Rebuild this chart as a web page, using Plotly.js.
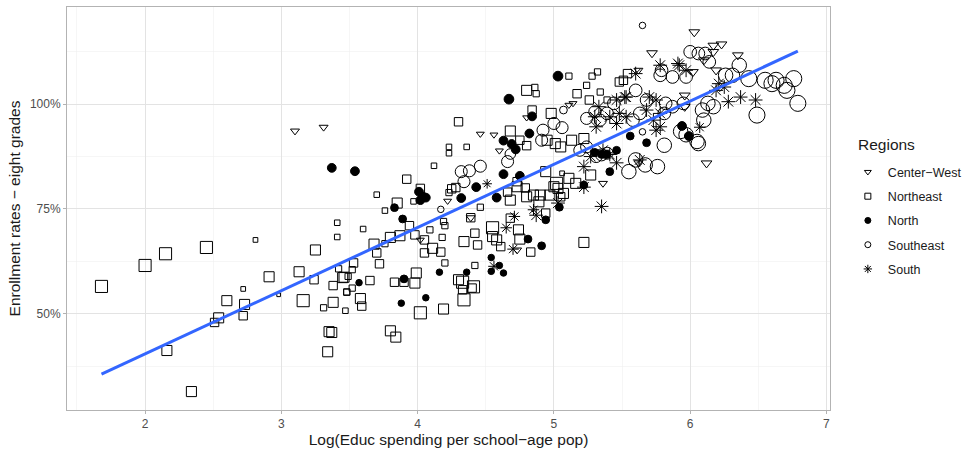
<!DOCTYPE html>
<html><head><meta charset="utf-8">
<script src="https://cdn.plot.ly/plotly-3.0.1.min.js"></script>
<style>html,body{margin:0;padding:0;background:#fff}</style>
</head><body><div id="chart" style="width:974px;height:451px"></div>
<script>
// ---- Data ----
// x: Log(Educ spending per school-age pop), y: enrollment rate (fraction), pop: relative population weight
const regionNames = ["Center\u2212West", "Northeast", "North", "Southeast", "South"];

const cwX = [3.10,3.31,4.46,4.56,4.80,4.60,4.22,4.39,4.02,5.14,5.11,5.36,4.73,6.03,5.72,6.10,6.17,6.02,6.19,5.62,5.96,5.96,6.12,6.23,6.35,6.17,5.62];
const cwY = [0.936,0.945,0.929,0.927,0.968,0.889,0.769,0.729,0.676,1.002,0.998,0.811,0.652,1.172,1.122,1.105,1.140,1.077,1.081,1.081,1.021,0.994,0.859,1.143,1.117,1.125,0.860];
const cwPop = [4,4,3,3,3,3,3,4,3,3,3,4,4,6,6,6,6,6,6,4,6,6,6,6,6,6,4];

const neX = [1.68,2.00,2.15,2.45,2.81,3.25,2.91,3.13,3.24,2.72,2.98,2.60,2.73,3.16,2.54,2.51,2.72,3.38,3.41,3.41,
  3.38,3.31,3.34,3.35,3.37,2.16,2.34,3.47,3.45,3.42,3.48,3.70,3.85,3.76,3.60,3.68,3.80,3.87,3.76,3.70,
  3.72,3.53,3.52,3.46,3.49,3.65,3.52,3.48,3.58,3.59,3.83,3.90,3.80,3.84,3.92,4.12,4.02,3.97,4.30,4.84,
  4.98,4.80,4.86,4.87,5.11,4.68,4.75,4.80,4.23,4.23,4.36,4.94,5.03,5.06,4.25,4.28,4.23,4.46,4.39,4.19,
  4.20,3.94,3.98,4.05,4.18,4.09,4.11,4.05,4.17,4.20,3.99,3.98,4.02,4.19,4.34,4.33,4.41,4.42,4.55,4.55,
  4.58,4.61,4.74,4.75,4.68,4.83,4.89,4.94,5.00,5.05,4.85,4.80,4.68,4.73,4.42,4.34,4.44,4.30,4.40,4.33,
  5.24,5.28,5.32,5.17,5.34,5.39,5.26,5.05,5.13,5.22,4.95,5.01,5.27,5.02,5.11,5.07,5.16,4.97,4.90,5.22,
  5.51,5.48,5.54,4.66,4.73,4.79];
const neY = [0.565,0.615,0.643,0.658,0.676,0.652,0.588,0.600,0.581,0.559,0.545,0.531,0.522,0.531,0.490,0.479,0.495,0.567,0.717,0.683,
  0.527,0.514,0.409,0.457,0.455,0.412,0.314,0.507,0.586,0.607,0.552,0.784,0.764,0.746,0.702,0.666,0.682,0.686,0.667,0.645,
  0.619,0.621,0.605,0.587,0.589,0.579,0.561,0.551,0.536,0.518,0.575,0.575,0.459,0.444,0.821,0.853,0.799,0.768,0.958,0.986,
  0.978,1.033,1.040,1.025,1.067,0.936,0.914,0.901,0.898,0.883,0.898,0.839,0.799,0.835,0.798,0.801,0.789,0.754,0.729,0.720,
  0.710,0.710,0.688,0.676,0.682,0.700,0.656,0.645,0.647,0.621,0.597,0.573,0.502,0.511,0.533,0.575,0.564,0.615,0.705,0.684,
  0.676,0.660,0.700,0.678,0.728,0.647,0.767,0.740,0.803,0.779,0.783,0.779,0.771,0.803,0.692,0.672,0.664,0.581,0.561,0.557,
  1.045,1.067,1.077,1.025,1.029,1.010,1.010,0.898,0.914,0.918,0.914,0.906,0.831,0.811,0.823,0.787,0.811,0.783,0.783,0.670,
  1.057,1.053,1.073,0.790,0.815,0.800];
const nePop = [9,9,9,9,1,6,6,6,4,1,0.5,6,6,9,6,4,4,4,1.5,1.5,
  6,2,6,6,6,6,6,1.5,6,2,2,1.5,6,1.5,1.5,6,6,6,2,4,
  4,4,2,6,2,4,2,2,6,4,4,4,6,6,4,1.5,4,1.5,4,4,
  6,6,2,2,2,6,4,4,1.5,1.5,1.5,6,6,1,4,4,2,2,4,2,
  2,4,4,4,2,2,6,4,4,2,6,6,9,6,9,9,9,2,9,6,
  6,4,6,6,4,4,6,4,6,4,6,6,6,6,4,6,4,6,4,4,
  2,2,2,4,2,2,4,6,6,6,6,6,6,9,6,6,6,6,6,6,
  4,4,4,4,4,4];

const nX = [3.37,3.54,3.83,3.89,3.57,3.90,3.88,4.16,4.06,4.01,4.04,4.02,4.06,4.32,4.43,4.58,4.63,4.75,4.67,5.03,
  4.84,4.82,4.63,4.69,4.72,4.36,4.54,4.60,4.54,4.63,4.81,4.91,5.04,4.94,5.41,5.22,5.94,5.99,5.56,5.68,
  5.46,5.39,5.30,5.35];
const nY = [0.848,0.840,0.753,0.726,0.574,0.583,0.525,0.599,0.538,0.791,0.779,0.771,0.777,0.776,0.802,0.777,0.833,0.829,1.012,1.067,
  0.971,0.930,0.913,0.905,0.892,0.599,0.634,0.615,0.601,0.597,0.678,0.662,0.754,0.724,0.839,0.807,0.948,0.924,0.924,0.908,
  0.890,0.880,0.885,0.880];
const nPop = [4,4,3,3,2,3,2,2,2,4,4,4,4,4,4,4,4,4,5,5,
  4,4,4,4,4,2,2,2,2,2,3,3,3,3,3,3,4,4,3,3,
  3,3,3,3];

const seX = [4.32,4.38,4.46,4.34,4.66,4.68,5.00,5.06,4.17,5.07,5.24,5.30,5.34,4.92,4.91,5.19,5.24,5.31,5.35,5.39,
  5.65,6.00,6.06,6.11,6.14,5.78,5.87,5.79,5.97,5.60,5.68,5.82,5.81,5.87,5.95,5.63,5.58,5.44,5.39,6.09,
  6.13,6.17,6.10,6.06,5.65,5.81,5.55,5.67,5.76,6.36,6.43,6.55,6.63,6.69,6.76,6.79,6.49,6.71,6.60,6.26,
  6.31,5.93,5.97,6.05,5.60];
const seY = [0.839,0.841,0.852,0.815,0.863,0.881,0.954,0.944,0.749,0.986,0.966,0.982,0.962,0.938,0.914,0.890,0.898,0.875,0.879,0.883,
  1.188,1.125,1.121,1.121,1.101,1.069,1.065,1.081,1.065,1.033,1.010,1.002,0.978,0.994,1.002,0.978,0.962,1.002,0.978,0.986,
  1.002,0.994,0.962,0.906,0.934,0.902,0.839,0.855,0.851,1.093,1.061,1.057,1.057,1.045,1.061,1.002,0.974,1.033,1.049,1.069,
  1.069,0.935,0.927,0.911,0.867];
const sePop = [8,8,8,8,8,6,8,8,2,3,8,8,8,8,8,8,8,8,8,8,
  2,9,9,9,9,9,9,9,9,9,9,9,9,9,9,9,9,9,9,12,
  12,12,12,12,2,12,12,12,12,12,15,15,15,15,15,15,15,15,15,12,
  12,12,12,12,12];

const sX = [4.51,4.65,4.71,4.70,4.56,4.85,5.31,5.30,5.22,5.27,5.36,5.22,5.35,5.03,4.87,5.78,5.91,5.97,5.60,5.46,
  5.53,5.48,5.70,5.75,5.68,5.78,5.73,5.78,5.75,5.41,5.46,5.53,6.07,5.63,6.21,6.28,6.37,6.48,6.19,6.25,
  5.41,5.46,5.33,5.92,5.52];
const sY = [0.810,0.705,0.732,0.654,0.613,0.748,0.946,0.970,0.851,0.875,0.890,0.802,0.756,0.764,0.735,1.093,1.097,1.081,1.073,1.010,
  1.017,0.978,1.017,1.010,0.986,0.978,0.962,0.946,0.938,0.970,0.954,0.970,0.945,0.867,1.049,1.006,1.017,1.010,1.033,1.041,
  0.880,0.860,0.994,1.093,1.017];
const sPop = [4,6,6,6,6,6,9,9,9,9,9,9,9,9,9,9,9,9,9,9,
  9,9,9,9,9,9,9,9,9,9,9,9,6,9,9,9,9,9,9,9,
  9,9,9,9,9];

// ---- Build traces ----
const sz = (pops, k) => pops.map(p => 1 + k * Math.sqrt(p));
const ink = '#000000';
const series = [
  {name: regionNames[0], x: cwX, y: cwY, pop: cwPop, symbol: 'triangle-down-open', k: 3.4},
  {name: regionNames[1], x: neX, y: neY, pop: nePop, symbol: 'square-open', k: 3.7},
  {name: regionNames[2], x: nX,  y: nY,  pop: nPop,  symbol: 'circle', k: 3.9},
  {name: regionNames[3], x: seX, y: seY, pop: sePop, symbol: 'circle-open', k: 3.9},
  {name: regionNames[4], x: sX,  y: sY,  pop: sPop,  symbol: 'asterisk-open', k: 3.5}
];
const traces = [];
series.forEach((s, i) => {
  traces.push({
    type: 'scatter', mode: 'markers', x: s.x, y: s.y, name: s.name,
    legendgroup: 'g' + i, showlegend: false, hoverinfo: 'skip',
    marker: {symbol: s.symbol, size: sz(s.pop, s.k), color: ink, opacity: 1, line: {color: ink, width: 1}}
  });
});
// regression line (OLS over all points)
const allX = [].concat(cwX, neX, nX, seX, sX);
const allY = [].concat(cwY, neY, nY, seY, sY);
const n = allX.length;
const mx = allX.reduce((a, b) => a + b, 0) / n;
const my = allY.reduce((a, b) => a + b, 0) / n;
let sxy = 0, sxx = 0;
for (let i = 0; i < n; i++) { sxy += (allX[i] - mx) * (allY[i] - my); sxx += (allX[i] - mx) ** 2; }
const slope = sxy / sxx, icpt = my - slope * mx;
const xmin = Math.min(...allX), xmax = Math.max(...allX);
traces.push({
  type: 'scatter', mode: 'lines', x: [xmin, xmax], y: [icpt + slope * xmin, icpt + slope * xmax],
  line: {color: '#3366FF', width: 3}, showlegend: false, hoverinfo: 'skip'
});
// legend keys
series.forEach((s, i) => {
  traces.push({
    type: 'scatter', mode: 'markers', x: [null], y: [null], name: s.name,
    legendgroup: 'g' + i, showlegend: true,
    marker: {symbol: s.symbol, size: s.symbol === 'asterisk-open' ? 7 : 6, color: ink, opacity: 1, line: {color: ink, width: 1}}
  });
});

const layout = {
  width: 974, height: 451,
  margin: {l: 67, r: 140, t: 7, b: 41},
  paper_bgcolor: '#ffffff', plot_bgcolor: '#ffffff',
  font: {family: 'Liberation Sans, Arial, sans-serif', color: '#1a1a1a'},
  showlegend: true,
  legend: {
    x: 1.0234, xanchor: 'left', y: 0.627, yanchor: 'top',
    font: {size: 12.5, color: '#1a1a1a'},
    traceorder: 'grouped', tracegroupgap: 5, itemwidth: 30
  },
  annotations: [{
    text: 'Regions', xref: 'paper', yref: 'paper', x: 1.0339, y: 0.660,
    xanchor: 'left', yanchor: 'middle', showarrow: false,
    font: {size: 15.5, color: '#1a1a1a'}
  }],
  xaxis: {
    range: [1.427, 7.026], tickmode: 'linear', tick0: 0, dtick: 1,
    showgrid: true, gridcolor: '#e3e3e3', gridwidth: 1, zeroline: false,
    minor: {dtick: 0.5, tick0: 0, showgrid: true, gridcolor: '#f0f0f0', gridwidth: 0.6},
    showline: true, mirror: true, linecolor: '#b3b3b3', linewidth: 1,
    ticks: 'outside', ticklen: 3, tickcolor: '#b3b3b3',
    tickfont: {size: 12, color: '#4d4d4d'},
    title: {text: 'Log(Educ spending per school\u2212age pop)', font: {size: 15.5, color: '#1a1a1a'}, standoff: 0}
  },
  yaxis: {
    range: [0.270, 1.232], tickmode: 'linear', tick0: 0, dtick: 0.25, tickformat: '.0%',
    showgrid: true, gridcolor: '#e3e3e3', gridwidth: 1, zeroline: false,
    minor: {dtick: 0.125, tick0: 0, showgrid: true, gridcolor: '#f0f0f0', gridwidth: 0.6},
    showline: true, mirror: true, linecolor: '#b3b3b3', linewidth: 1,
    ticks: 'outside', ticklen: 3, tickcolor: '#b3b3b3',
    tickfont: {size: 12, color: '#4d4d4d'},
    title: {text: 'Enrollment rates \u2212 eight grades', font: {size: 15.5, color: '#1a1a1a'}, standoff: 5}
  }
};
Plotly.newPlot('chart', traces, layout, {displayModeBar: false, staticPlot: true});
</script>
</body></html>
